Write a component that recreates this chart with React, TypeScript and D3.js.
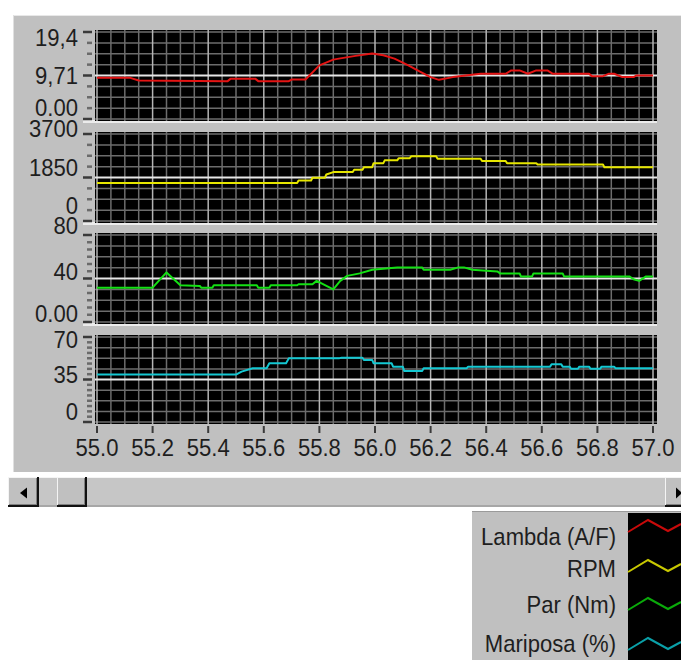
import React from "react";
import * as d3 from "d3";

// ---- data -------------------------------------------------------------
const timeTicks = [55.0, 55.2, 55.4, 55.6, 55.8, 56.0, 56.2, 56.4, 56.6, 56.8, 57.0];

const lambdaSeries: [number, number][] = [
  [55.0, 9.19], [55.12, 9.19], [55.15, 8.58], [55.47, 8.45], [55.48, 8.96], [55.57, 8.96],
  [55.58, 8.45], [55.69, 8.45], [55.7, 8.81], [55.75, 8.81], [55.8, 11.97], [55.85, 13.25],
  [55.87, 13.48], [55.93, 14.09], [55.99, 14.61], [56.03, 14.23], [56.07, 13.48], [56.12, 11.97],
  [56.16, 10.61], [56.2, 9.35], [56.23, 8.74], [56.28, 9.35], [56.38, 10.09], [56.47, 10.09],
  [56.49, 10.84], [56.52, 10.84], [56.55, 10.09], [56.58, 10.84], [56.62, 10.84], [56.64, 10.09],
  [56.77, 10.09], [56.78, 9.57], [56.82, 9.57], [56.84, 10.09], [56.86, 10.09], [56.89, 9.35],
  [56.93, 9.35], [56.94, 9.71], [57.0, 9.71],
];

const rpmSeries: [number, number][] = [
  [55.0, 1620], [55.72, 1620], [55.725, 1720], [55.77, 1720], [55.775, 1840], [55.82, 1840],
  [55.825, 1980], [55.85, 2080], [55.92, 2080], [55.925, 2180], [55.955, 2180], [55.96, 2290],
  [55.99, 2290], [55.995, 2460], [56.03, 2460], [56.035, 2580], [56.08, 2580], [56.085, 2670],
  [56.125, 2670], [56.13, 2750], [56.22, 2750], [56.225, 2650], [56.38, 2650], [56.385, 2550],
  [56.47, 2550], [56.475, 2460], [56.58, 2460], [56.585, 2400], [56.82, 2400], [56.825, 2290],
  [57.0, 2290],
];

const parSeries: [number, number][] = [
  [55.0, 31.6], [55.2, 31.6], [55.25, 45.6], [55.3, 33.8], [55.37, 33.1], [55.375, 31.6],
  [55.415, 31.6], [55.42, 33.8], [55.575, 33.8], [55.58, 31.6], [55.62, 31.6], [55.625, 33.8],
  [55.72, 33.8], [55.725, 34.7], [55.775, 34.7], [55.79, 37.8], [55.85, 30.0], [55.875, 37.8],
  [55.9, 42.4], [55.945, 44.7], [55.99, 48.0], [56.08, 50.2], [56.17, 50.2], [56.175, 48.0],
  [56.27, 48.0], [56.3, 50.2], [56.32, 50.2], [56.35, 48.0], [56.44, 46.5], [56.45, 44.7],
  [56.52, 44.7], [56.525, 41.9], [56.565, 41.9], [56.57, 44.7], [56.675, 44.7], [56.68, 41.9],
  [56.915, 41.9], [56.93, 39.3], [56.95, 37.8], [56.975, 41.9], [57.0, 41.9],
];

const mariposaSeries: [number, number][] = [
  [55.0, 39.1], [55.5, 39.1], [55.52, 41.5], [55.56, 44.3], [55.61, 44.3], [55.62, 48.3],
  [55.68, 48.3], [55.69, 52.4], [55.87, 52.4], [55.88, 53.0], [55.955, 53.0], [55.96, 51.1],
  [55.99, 51.1], [55.995, 48.3], [56.06, 48.3], [56.065, 45.6], [56.1, 45.6], [56.105, 42.1],
  [56.17, 42.1], [56.175, 44.3], [56.33, 44.3], [56.335, 45.6], [56.63, 45.6], [56.635, 47.5],
  [56.67, 47.5], [56.675, 45.6], [56.7, 45.6], [56.705, 43.8], [56.73, 43.8], [56.735, 45.6],
  [56.77, 45.6], [56.775, 43.8], [56.81, 43.8], [56.815, 45.6], [56.86, 45.6], [56.865, 44.3],
  [57.0, 44.3],
];

const axisMax = [19.42, 3700, 80, 70];
const lambdaLabels = ["19,4", "9,71", "0.00"];
const rpmLabels = ["3700", "1850", "0"];
const parLabels = ["80", "40", "0.00"];
const mariposaLabels = ["70", "35", "0"];
const legendNames = ["Lambda (A/F)", "RPM", "Par (Nm)", "Mariposa (%)"];

// ---- layout & style ---------------------------------------------------
const W = 681;
const H = 660;
const PANE_LEFT = 95;
const PANE_RIGHT = 657;
const paneTops = [30, 132, 233, 335];
const paneHeights = [91, 91, 91, 89];
const tickIntervals = [8, 8, 12, 16];
// baseline nudges of the three axis labels (top, middle, bottom) of each pane
const labelNudges = [
  [14, 8.5, -3],
  [3, -1.5, -7],
  [-1, 1.5, 0],
  [11, 3.5, -2],
];
const lineColors = ["#e41414", "#e6e600", "#14e014", "#14c8d2"];
const legendColors = ["#c80a0a", "#c8c800", "#0aaa0a", "#0aa0a8"];
const FONT = "'Liberation Sans', Arial, Helvetica, sans-serif";
const TEXT_COLOR = "#1e1e1e";
const PANEL = "#c0c0c0";

const x = d3.scaleLinear().domain([55, 57]).range([97, 653]);

function Label({ x: tx, y: ty, anchor, children }: { x: number; y: number; anchor: string; children: React.ReactNode }) {
  return (
    <text
      transform={`translate(${tx},${ty}) scale(0.92,1)`}
      textAnchor={anchor}
      fontFamily={FONT}
      fontSize={24}
      fill={TEXT_COLOR}
    >
      {children}
    </text>
  );
}

function Pane({ index, series, labels }: { index: number; series: [number, number][]; labels: string[] }) {
  const top = paneTops[index];
  const h = paneHeights[index];
  const max = axisMax[index];
  const y = d3.scaleLinear().domain([0, max]).range([top + h - 2, top + 2]);
  const line = d3
    .line<[number, number]>()
    .x((d) => x(d[0]))
    .y((d) => y(d[1]));
  const vGrid = d3.range(0, 41).map((k) => ({ t: 55 + k * 0.05, major: k % 4 === 0 }));
  const hGrid = d3.range(0, 9).map((k) => ({ v: (max * k) / 8, mid: k === 4 }));
  const n = tickIntervals[index];
  const ticks = d3.range(0, n + 1).map((k) => ({ v: (max * k) / n, major: k === 0 || k === n || k * 2 === n }));
  const labelValues = [max, max / 2, 0];
  const clipId = `pane-clip-${index}`;
  return (
    <g>
      <defs>
        <clipPath id={clipId}>
          <rect x={PANE_LEFT} y={top} width={PANE_RIGHT - PANE_LEFT} height={h} />
        </clipPath>
      </defs>
      {index < 3 && <rect x={83} y={top + h - 1} width={PANE_RIGHT - 83} height={3} fill="#ececec" />}
      <rect x={PANE_LEFT} y={top} width={PANE_RIGHT - PANE_LEFT} height={h} fill="#000" />
      <g clipPath={`url(#${clipId})`}>
        {hGrid
          .filter((g) => !g.mid)
          .map((g, i) => (
            <line key={`h${i}`} x1={PANE_LEFT} x2={PANE_RIGHT} y1={y(g.v)} y2={y(g.v)} stroke="#6c6c6c" strokeWidth={1.5} />
          ))}
        {vGrid.map((g, i) => (
          <line
            key={`v${i}`}
            x1={x(g.t)}
            x2={x(g.t)}
            y1={top}
            y2={top + h}
            stroke={g.major ? "#b4b4b4" : "#6c6c6c"}
            strokeWidth={1.5}
          />
        ))}
        <line x1={PANE_LEFT} x2={PANE_RIGHT} y1={y(max / 2)} y2={y(max / 2)} stroke="#e6e6e6" strokeWidth={2} />
        <path d={line(series) || ""} fill="none" stroke={lineColors[index]} strokeWidth={2} strokeLinejoin="round" />
      </g>
      {ticks.map((t, i) => (
        <line
          key={`t${i}`}
          x1={t.major ? 83 : 87}
          x2={92}
          y1={y(t.v)}
          y2={y(t.v)}
          stroke={t.major ? "#3a3a3a" : "#6a6a6a"}
          strokeWidth={2.5}
        />
      ))}
      {labels.map((s, i) => (
        <Label key={`l${i}`} x={78} y={y(labelValues[i]) + labelNudges[index][i]} anchor="end">
          {s}
        </Label>
      ))}
    </g>
  );
}

function Button3D({ x0, y0, w, h }: { x0: number; y0: number; w: number; h: number }) {
  return (
    <g>
      <rect x={x0} y={y0} width={w} height={h} fill={PANEL} />
      <line x1={x0} x2={x0 + w} y1={y0 + 0.5} y2={y0 + 0.5} stroke="#f4f4f4" />
      <line x1={x0 + 0.5} x2={x0 + 0.5} y1={y0} y2={y0 + h} stroke="#f4f4f4" />
      <line x1={x0} x2={x0 + w} y1={y0 + h - 1} y2={y0 + h - 1} stroke="#111" strokeWidth={2} />
      <line x1={x0 + w - 1} x2={x0 + w - 1} y1={y0} y2={y0 + h} stroke="#111" strokeWidth={2} />
      <line x1={x0 + 1} x2={x0 + w - 2} y1={y0 + h - 2.5} y2={y0 + h - 2.5} stroke="#808080" />
      <line x1={x0 + w - 2.5} x2={x0 + w - 2.5} y1={y0 + 1} y2={y0 + h - 2} stroke="#808080" />
    </g>
  );
}

export default function App() {
  const seriesList = [lambdaSeries, rpmSeries, parSeries, mariposaSeries];
  const labelList = [lambdaLabels, rpmLabels, parLabels, mariposaLabels];
  const zig = d3.line<[number, number]>();
  const legendTextY = [544.5, 576.5, 612.5, 651.5];
  const legendZigY = [526, 566, 604, 644];
  return (
    <svg width={W} height={H} style={{ position: "absolute", left: 0, top: 0, background: "#fff" }}>
      {/* main panel */}
      <rect x={13} y={15} width={W - 13} height={457} fill={PANEL} />
      <line x1={13} x2={W} y1={15.5} y2={15.5} stroke="#e8e8e8" />
      <line x1={13.5} x2={13.5} y1={15} y2={472} stroke="#e0e0e0" />

      {seriesList.map((s, i) => (
        <Pane key={i} index={i} series={s} labels={labelList[i]} />
      ))}

      {/* time axis */}
      {timeTicks.map((t, i) => (
        <g key={i}>
          <line x1={x(t)} x2={x(t)} y1={426} y2={433} stroke="#3a3a3a" strokeWidth={2} />
          <Label x={x(t)} y={456} anchor="middle">
            {t.toFixed(1)}
          </Label>
        </g>
      ))}

      {/* scrollbar */}
      <rect x={8} y={477} width={W - 8} height={30} fill="#c6c6c6" />
      <line x1={8} x2={W} y1={477.5} y2={477.5} stroke="#f4f4f4" />
      <line x1={8} x2={W} y1={506} y2={506} stroke="#888" />
      <Button3D x0={8} y0={477} w={31} h={30} />
      <path d="M20,493 L27,487.5 L27,498.5 Z" fill="#000" />
      <Button3D x0={57} y0={477} w={30} h={30} />
      <Button3D x0={665} y0={477} w={20} h={30} />
      <path d="M676,487.5 L682,493 L676,498.5 Z" fill="#000" />

      {/* legend */}
      <rect x={472} y={511} width={W - 472} height={H - 511} fill={PANEL} />
      <line x1={472} x2={W} y1={511.5} y2={511.5} stroke="#9a9a9a" />
      <rect x={628} y={513} width={W - 628} height={H - 513} fill="#000" />
      {legendNames.map((name, i) => {
        const cy = legendZigY[i];
        const pts: [number, number][] = [
          [628, cy + 6],
          [648, cy - 6],
          [668, cy + 5],
          [681, cy - 2],
        ];
        return (
          <g key={name}>
            <Label x={616} y={legendTextY[i]} anchor="end">
              {name}
            </Label>
            <path d={zig(pts) || ""} fill="none" stroke={legendColors[i]} strokeWidth={2} />
          </g>
        );
      })}
    </svg>
  );
}
